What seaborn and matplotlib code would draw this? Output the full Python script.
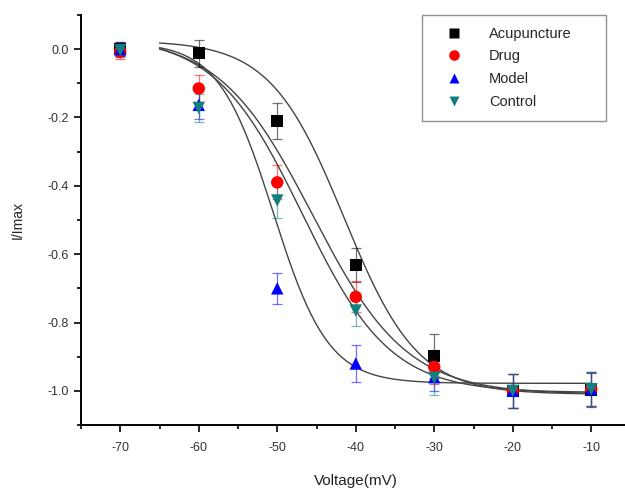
import numpy as np
import pandas as pd
import matplotlib
matplotlib.use("Agg")
import matplotlib.pyplot as plt
import seaborn as sns
from matplotlib.ticker import MultipleLocator

# data
voltage = [-70, -60, -50, -40, -30, -20, -10]
groups = ["Acupuncture", "Drug", "Model", "Control"]

acu_mean = [0.0, -0.012, -0.21, -0.632, -0.898, -1.0, -0.998]
acu_err = [0.02, 0.04, 0.053, 0.05, 0.065, 0.05, 0.05]
drug_mean = [-0.008, -0.115, -0.39, -0.725, -0.93, -1.0, -0.995]
drug_err = [0.02, 0.04, 0.05, 0.045, 0.05, 0.05, 0.05]
model_mean = [0.0, -0.163, -0.70, -0.92, -0.96, -1.0, -0.995]
model_err = [0.02, 0.04, 0.046, 0.055, 0.04, 0.05, 0.05]
ctrl_mean = [-0.003, -0.172, -0.443, -0.765, -0.962, -1.0, -0.995]
ctrl_err = [0.02, 0.04, 0.05, 0.045, 0.05, 0.05, 0.05]

# Boltzmann fit parameters (top, bottom, V1/2, k) estimated from the fitted curves
acu_fit = [0.025, -1.01, -41.5, 4.7]
drug_fit = [0.04, -1.01, -45.5, 6.0]
model_fit = [0.02, -0.978, -50.5, 3.5]
ctrl_fit = [0.04, -1.005, -46.8, 5.6]

colors = {"Acupuncture": "black", "Drug": "red", "Model": "blue", "Control": "#138080"}
markers = {"Acupuncture": "s", "Drug": "o", "Model": "^", "Control": "v"}

means = {"Acupuncture": acu_mean, "Drug": drug_mean, "Model": model_mean, "Control": ctrl_mean}
errs = {"Acupuncture": acu_err, "Drug": drug_err, "Model": model_err, "Control": ctrl_err}
fits = {"Acupuncture": acu_fit, "Drug": drug_fit, "Model": model_fit, "Control": ctrl_fit}

rows = []
for g in groups:
    for v, m, e in zip(voltage, means[g], errs[g]):
        rows.append({"Voltage": v, "I": m, "err": e, "group": g})
df = pd.DataFrame(rows)

v_fit = np.linspace(-65, -10, 200)
fit_rows = []
for g in groups:
    top, bot, vh, k = fits[g]
    y = bot + (top - bot) / (1 + np.exp((v_fit - vh) / k))
    for v, yy in zip(v_fit, y):
        fit_rows.append({"Voltage": v, "I": yy, "group": g})
fit_df = pd.DataFrame(fit_rows)

sns.set_style("ticks")
plt.rcParams["font.family"] = ["Liberation Sans", "DejaVu Sans"]

fig = plt.figure(figsize=(6.25, 4.91), dpi=100)
ax = fig.add_axes([81 / 625, 1 - 425 / 491, 549.5 / 625, 410 / 491])

# fitted curves
sns.lineplot(data=fit_df, x="Voltage", y="I", units="group", estimator=None,
             color="#444444", lw=1.0, ax=ax, legend=False, zorder=1)

# error bars
for g in groups:
    sub = df[df.group == g]
    ax.errorbar(sub.Voltage, sub.I, yerr=sub.err, fmt="none", ecolor=colors[g],
                elinewidth=0.9, capsize=3.5, capthick=0.9, alpha=0.55, zorder=2)

sns.scatterplot(data=df, x="Voltage", y="I", hue="group", style="group",
                palette=colors, markers=markers, hue_order=groups, style_order=groups,
                s=80, edgecolor="none", ax=ax, zorder=3, legend=True)

ax.set_xlim(-75, -5)
ax.set_ylim(-1.1, 0.1)
ax.xaxis.set_minor_locator(MultipleLocator(5))
ax.yaxis.set_minor_locator(MultipleLocator(0.1))
ax.set_xticks(voltage)
ax.set_xticklabels([str(v) for v in voltage])
ax.set_yticks([0.0, -0.2, -0.4, -0.6, -0.8, -1.0])
ax.set_yticklabels(["0.0", "-0.2", "-0.4", "-0.6", "-0.8", "-1.0"])
ax.tick_params(which="major", direction="out", length=5, width=1.2, labelsize=9,
               colors="black", labelcolor="#333333")
ax.tick_params(which="minor", direction="out", length=3, width=1.2, colors="black")
ax.tick_params(axis="x", pad=7)
ax.tick_params(axis="y", pad=4)
for s in ["left", "bottom"]:
    ax.spines[s].set_linewidth(1.4)
    ax.spines[s].set_color("black")
sns.despine(ax=ax)

ax.set_xlabel("Voltage(mV)", fontsize=11, color="#222222", labelpad=15)
ax.set_ylabel("I/Imax", fontsize=10, color="#222222", labelpad=16)

handles, labels = ax.get_legend_handles_labels()
ax.get_legend().remove()
leg = fig.legend(handles, labels, loc="upper left",
                 bbox_to_anchor=(422 / 625, 1 - 121 / 491, 184 / 625, 106 / 491),
                 mode="expand", frameon=True, fancybox=False, edgecolor="#777777",
                 fontsize=10.5, handletextpad=1.0, borderpad=0.8, labelspacing=0.6,
                 borderaxespad=0, markerscale=0.85, handlelength=2.8)
leg.get_frame().set_linewidth(1.0)

fig.savefig("out.png", dpi=100)
